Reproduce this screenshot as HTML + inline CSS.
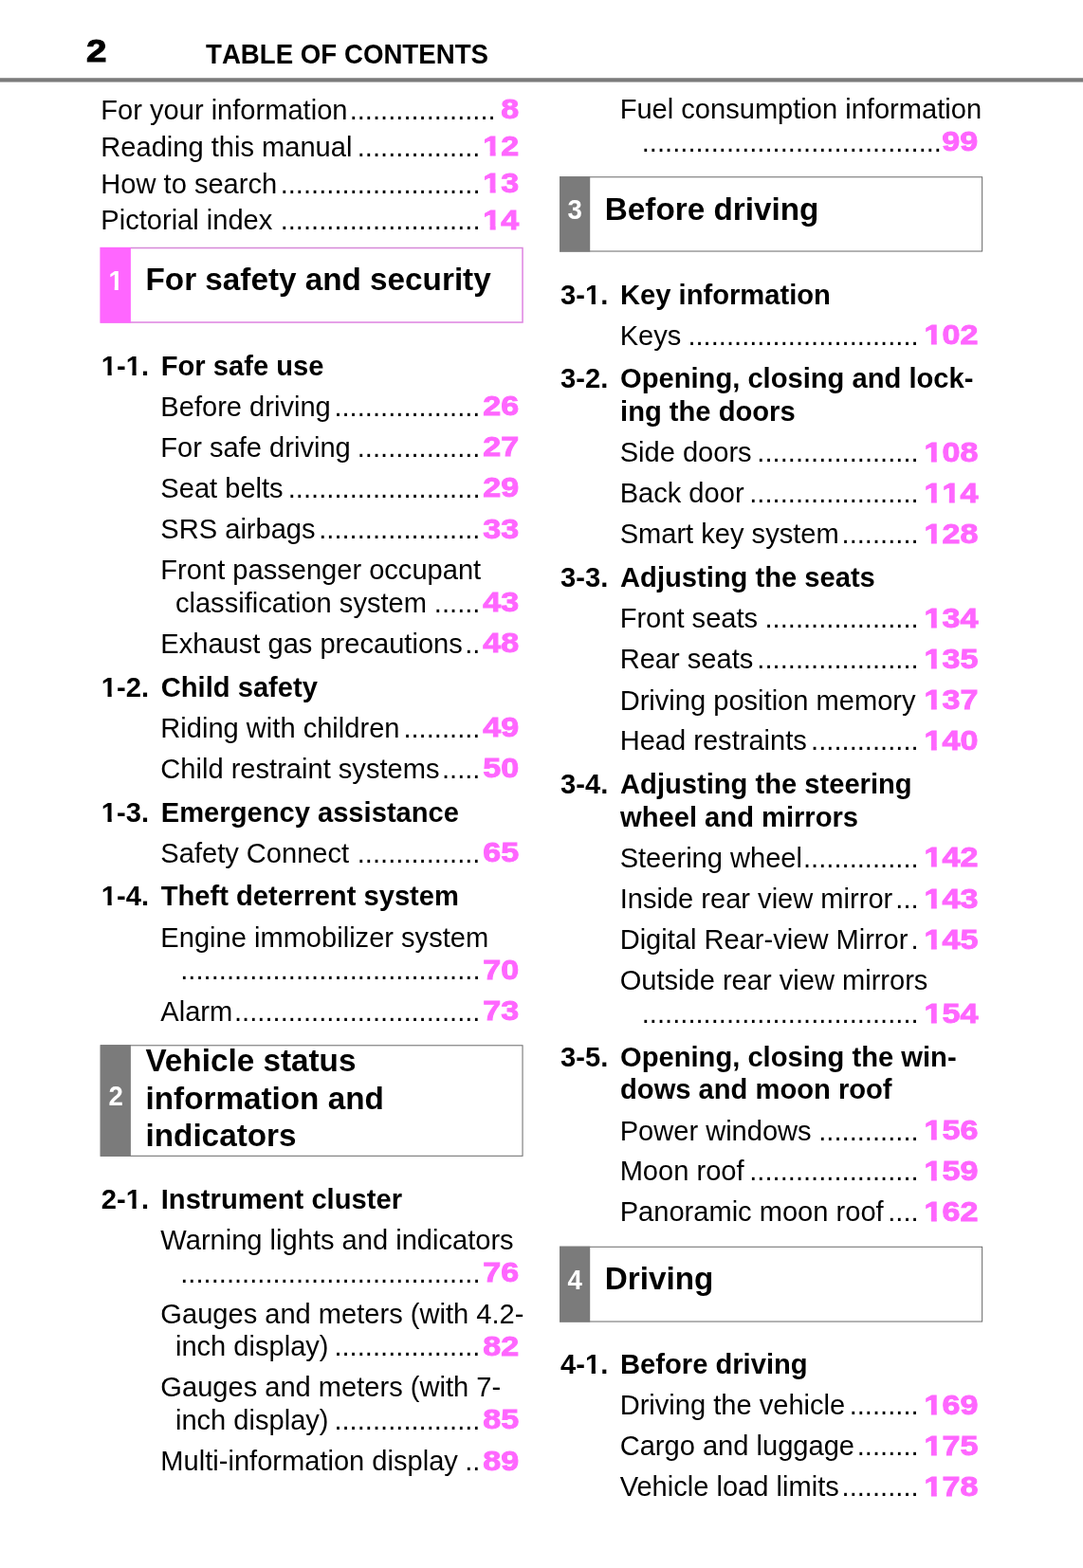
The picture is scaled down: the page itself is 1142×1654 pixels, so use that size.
<!DOCTYPE html>
<html lang="en">
<head>
<meta charset="utf-8">
<title>TABLE OF CONTENTS</title>
<style>
html,body{margin:0;padding:0;background:#fff}
body{width:1142px;height:1654px;position:relative;overflow:hidden;font-family:"Liberation Sans",Arial,Helvetica,sans-serif;color:#000}
.bg{position:absolute;left:0;top:0}
.t{position:absolute;white-space:pre;margin:0}
.e{font-size:29.08px;line-height:29px}
.d{letter-spacing:0.03px}
.s{font-size:29.15px;line-height:29px;font-weight:bold}
.h{font-size:33.27px;line-height:33px;font-weight:bold}
.hd{font-size:28.9px;line-height:28px;font-weight:bold;font-kerning:none;transform:scaleX(0.957);transform-origin:0 50%}
.n{font-size:29px;line-height:29px;font-weight:bold;color:#ff66ff;transform:scaleX(1.175);transform-origin:100% 50%;-webkit-text-stroke:0.9px #ff66ff}
.pg{font-size:33px;line-height:34px;font-weight:bold;transform:scaleX(1.17);transform-origin:0 50%;-webkit-text-stroke:1px #000}
.o,.o2,.o3{display:inline-block}
.o{clip-path:polygon(-10% -20%,120% -20%,120% 20px,69.8% 20px,69.8% 130%,38.8% 130%,38.8% 20px,-10% 20px)}
.o2{clip-path:polygon(-10% -20%,120% -20%,120% 21px,67.2% 21px,67.2% 130%,41.4% 130%,41.4% 21px,-10% 21px)}
.o3{clip-path:polygon(-10% -20%,120% -20%,120% 20.9px,67.2% 20.9px,67.2% 130%,41.4% 130%,41.4% 20.9px,-10% 20.9px)}
.bn{font-size:30px;line-height:28px;font-weight:bold;color:#fff;width:32.2px;text-align:center;transform:scaleX(0.92)}
</style>
</head>
<body>
<svg class="bg" width="1142" height="1654" viewBox="0 0 1142 1654" aria-hidden="true">
<rect x="0" y="82.25" width="1142" height="4.3" fill="#7b7b7b"/>
<rect x="106.28" y="261.57" width="444.75" height="78.45" fill="#fff" stroke="#ffb4ff" stroke-width="1.9"/>
<rect x="106.28" y="261.57" width="444.75" height="78.45" fill="none" stroke="#c888cc" stroke-width="0.9"/>
<rect x="105.7" y="261" width="32.2" height="79.6" fill="#ff66ff"/>
<rect x="106.28" y="1102.78" width="444.75" height="116.55" fill="#fff" stroke="#707070" stroke-width="1.05"/>
<rect x="105.7" y="1102.2" width="32.2" height="117.7" fill="#7b7b7b"/>
<rect x="590.58" y="186.77" width="445.05" height="78.25" fill="#fff" stroke="#707070" stroke-width="1.05"/>
<rect x="590" y="186.2" width="32.2" height="79.4" fill="#7b7b7b"/>
<rect x="590.58" y="1315.28" width="445.05" height="78.75" fill="#fff" stroke="#707070" stroke-width="1.05"/>
<rect x="590" y="1314.7" width="32.2" height="79.9" fill="#7b7b7b"/>
</svg>
<header>
<div class="t pg" style="left:91px;top:37px">2</div>
<div class="t hd" style="left:216.6px;top:43px">TABLE OF CONTENTS</div>
</header>
<main>
<section class="col">
<div class="t e" style="left:106.3px;top:102px">For your information</div>
<div class="t e d" style="left:368.63px;top:102px">...................</div>
<div class="t n" style="right:595px;top:101px">8</div>
<div class="t e" style="left:106.3px;top:141px">Reading this manual</div>
<div class="t e d" style="left:376.74px;top:141px">................</div>
<div class="t n" style="right:595px;top:140px"><span class="o">1</span>2</div>
<div class="t e" style="left:106.3px;top:180px">How to search</div>
<div class="t e d" style="left:295.66px;top:180px">..........................</div>
<div class="t n" style="right:595px;top:179px"><span class="o">1</span>3</div>
<div class="t e" style="left:106.3px;top:218px">Pictorial index</div>
<div class="t e d" style="left:295.66px;top:218px">..........................</div>
<div class="t n" style="right:595px;top:218px"><span class="o">1</span>4</div>
<div class="t h" style="left:153.5px;top:278px">For safety and security</div>
<div class="t bn" style="left:105.7px;top:282px"><span class="o3">1</span></div>
<div class="t s" style="left:106.8px;top:372px"><span class="o2">1</span>-<span class="o2">1</span>.</div>
<div class="t s" style="left:169.75px;top:372px">For safe use</div>
<div class="t e" style="left:169.35px;top:415px">Before driving</div>
<div class="t e d" style="left:352.42px;top:415px">...................</div>
<div class="t n" style="right:595px;top:414px">26</div>
<div class="t e" style="left:169.35px;top:458px">For safe driving</div>
<div class="t e d" style="left:376.74px;top:458px">................</div>
<div class="t n" style="right:595px;top:457px">27</div>
<div class="t e" style="left:169.35px;top:501px">Seat belts</div>
<div class="t e d" style="left:303.77px;top:501px">.........................</div>
<div class="t n" style="right:595px;top:500px">29</div>
<div class="t e" style="left:169.35px;top:544px">SRS airbags</div>
<div class="t e d" style="left:336.2px;top:544px">.....................</div>
<div class="t n" style="right:595px;top:544px">33</div>
<div class="t e" style="left:169.35px;top:587px">Front passenger occupant</div>
<div class="t e" style="left:184.95px;top:622px">classification system</div>
<div class="t e d" style="left:457.82px;top:622px">......</div>
<div class="t n" style="right:595px;top:621px">43</div>
<div class="t e" style="left:169.35px;top:665px">Exhaust gas precautions</div>
<div class="t e d" style="left:490.25px;top:665px">..</div>
<div class="t n" style="right:595px;top:664px">48</div>
<div class="t s" style="left:106.8px;top:711px"><span class="o2">1</span>-2.</div>
<div class="t s" style="left:169.75px;top:711px">Child safety</div>
<div class="t e" style="left:169.35px;top:754px">Riding with children</div>
<div class="t e d" style="left:425.39px;top:754px">..........</div>
<div class="t n" style="right:595px;top:753px">49</div>
<div class="t e" style="left:169.35px;top:797px">Child restraint systems</div>
<div class="t e d" style="left:465.93px;top:797px">.....</div>
<div class="t n" style="right:595px;top:796px">50</div>
<div class="t s" style="left:106.8px;top:843px"><span class="o2">1</span>-3.</div>
<div class="t s" style="left:169.75px;top:843px">Emergency assistance</div>
<div class="t e" style="left:169.35px;top:886px">Safety Connect</div>
<div class="t e d" style="left:376.74px;top:886px">................</div>
<div class="t n" style="right:595px;top:885px">65</div>
<div class="t s" style="left:106.8px;top:931px"><span class="o2">1</span>-4.</div>
<div class="t s" style="left:169.75px;top:931px">Theft deterrent system</div>
<div class="t e" style="left:169.35px;top:975px">Engine immobilizer system</div>
<div class="t e d" style="left:190.26px;top:1009px">.......................................</div>
<div class="t n" style="right:595px;top:1009px">70</div>
<div class="t e" style="left:169.35px;top:1053px">Alarm</div>
<div class="t e d" style="left:247.01px;top:1053px">................................</div>
<div class="t n" style="right:595px;top:1052px">73</div>
<div class="t h" style="left:153.5px;top:1102px">Vehicle status</div>
<div class="t h" style="left:153.5px;top:1142px">information and</div>
<div class="t h" style="left:153.5px;top:1181px">indicators</div>
<div class="t bn" style="left:105.7px;top:1142px">2</div>
<div class="t s" style="left:106.8px;top:1251px">2-<span class="o2">1</span>.</div>
<div class="t s" style="left:169.75px;top:1251px">Instrument cluster</div>
<div class="t e" style="left:169.35px;top:1294px">Warning lights and indicators</div>
<div class="t e d" style="left:190.26px;top:1329px">.......................................</div>
<div class="t n" style="right:595px;top:1328px">76</div>
<div class="t e" style="left:169.35px;top:1372px">Gauges and meters (with 4.2-</div>
<div class="t e" style="left:184.95px;top:1406px">inch display)</div>
<div class="t e d" style="left:352.42px;top:1406px">...................</div>
<div class="t n" style="right:595px;top:1406px">82</div>
<div class="t e" style="left:169.35px;top:1449px">Gauges and meters (with 7-</div>
<div class="t e" style="left:184.95px;top:1484px">inch display)</div>
<div class="t e d" style="left:352.42px;top:1484px">...................</div>
<div class="t n" style="right:595px;top:1483px">85</div>
<div class="t e" style="left:169.35px;top:1527px">Multi-information display</div>
<div class="t e d" style="left:490.25px;top:1527px">..</div>
<div class="t n" style="right:595px;top:1527px">89</div>
</section>
<section class="col">
<div class="t e" style="left:653.65px;top:101px">Fuel consumption information</div>
<div class="t e d" style="left:676.74px;top:136px">.......................................</div>
<div class="t n" style="right:111px;top:135px">99</div>
<div class="t h" style="left:637.8px;top:204px">Before driving</div>
<div class="t bn" style="left:590px;top:207px">3</div>
<div class="t s" style="left:591.1px;top:297px">3-<span class="o2">1</span>.</div>
<div class="t s" style="left:654.05px;top:297px">Key information</div>
<div class="t e" style="left:653.65px;top:340px">Keys</div>
<div class="t e d" style="left:725.38px;top:340px">..............................</div>
<div class="t n" style="right:111px;top:339px"><span class="o">1</span>02</div>
<div class="t s" style="left:591.1px;top:385px">3-2.</div>
<div class="t s" style="left:654.05px;top:385px">Opening, closing and lock-</div>
<div class="t s" style="left:654.05px;top:420px">ing the doors</div>
<div class="t e" style="left:653.65px;top:463px">Side doors</div>
<div class="t e d" style="left:798.36px;top:463px">.....................</div>
<div class="t n" style="right:111px;top:463px"><span class="o">1</span>08</div>
<div class="t e" style="left:653.65px;top:506px">Back door</div>
<div class="t e d" style="left:790.25px;top:506px">......................</div>
<div class="t n" style="right:111px;top:506px"><span class="o">1</span><span class="o">1</span>4</div>
<div class="t e" style="left:653.65px;top:549px">Smart key system</div>
<div class="t e d" style="left:887.54px;top:549px">..........</div>
<div class="t n" style="right:111px;top:549px"><span class="o">1</span>28</div>
<div class="t s" style="left:591.1px;top:595px">3-3.</div>
<div class="t s" style="left:654.05px;top:595px">Adjusting the seats</div>
<div class="t e" style="left:653.65px;top:638px">Front seats</div>
<div class="t e d" style="left:806.46px;top:638px">....................</div>
<div class="t n" style="right:111px;top:638px"><span class="o">1</span>34</div>
<div class="t e" style="left:653.65px;top:681px">Rear seats</div>
<div class="t e d" style="left:798.36px;top:681px">.....................</div>
<div class="t n" style="right:111px;top:681px"><span class="o">1</span>35</div>
<div class="t e" style="left:653.65px;top:725px">Driving position memory</div>
<div class="t n" style="right:111px;top:724px"><span class="o">1</span>37</div>
<div class="t e" style="left:653.65px;top:767px">Head restraints</div>
<div class="t e d" style="left:855.11px;top:767px">..............</div>
<div class="t n" style="right:111px;top:767px"><span class="o">1</span>40</div>
<div class="t s" style="left:591.1px;top:813px">3-4.</div>
<div class="t s" style="left:654.05px;top:813px">Adjusting the steering</div>
<div class="t s" style="left:654.05px;top:848px">wheel and mirrors</div>
<div class="t e" style="left:653.65px;top:891px">Steering wheel</div>
<div class="t e d" style="left:847px;top:891px">...............</div>
<div class="t n" style="right:111px;top:890px"><span class="o">1</span>42</div>
<div class="t e" style="left:653.65px;top:934px">Inside rear view mirror</div>
<div class="t e d" style="left:944.3px;top:934px">...</div>
<div class="t n" style="right:111px;top:934px"><span class="o">1</span>43</div>
<div class="t e" style="left:653.65px;top:977px">Digital Rear-view Mirror</div>
<div class="t e d" style="left:960.52px;top:977px">.</div>
<div class="t n" style="right:111px;top:977px"><span class="o">1</span>45</div>
<div class="t e" style="left:653.65px;top:1020px">Outside rear view mirrors</div>
<div class="t e d" style="left:676.74px;top:1055px">....................................</div>
<div class="t n" style="right:111px;top:1055px"><span class="o">1</span>54</div>
<div class="t s" style="left:591.1px;top:1101px">3-5.</div>
<div class="t s" style="left:654.05px;top:1101px">Opening, closing the win-</div>
<div class="t s" style="left:654.05px;top:1135px">dows and moon roof</div>
<div class="t e" style="left:653.65px;top:1179px">Power windows</div>
<div class="t e d" style="left:863.22px;top:1179px">.............</div>
<div class="t n" style="right:111px;top:1178px"><span class="o">1</span>56</div>
<div class="t e" style="left:653.65px;top:1221px">Moon roof</div>
<div class="t e d" style="left:790.25px;top:1221px">......................</div>
<div class="t n" style="right:111px;top:1221px"><span class="o">1</span>59</div>
<div class="t e" style="left:653.65px;top:1264px">Panoramic moon roof</div>
<div class="t e d" style="left:936.19px;top:1264px">....</div>
<div class="t n" style="right:111px;top:1264px"><span class="o">1</span>62</div>
<div class="t h" style="left:637.8px;top:1332px">Driving</div>
<div class="t bn" style="left:590px;top:1336px">4</div>
<div class="t s" style="left:591.1px;top:1425px">4-<span class="o2">1</span>.</div>
<div class="t s" style="left:654.05px;top:1425px">Before driving</div>
<div class="t e" style="left:653.65px;top:1468px">Driving the vehicle</div>
<div class="t e d" style="left:895.65px;top:1468px">.........</div>
<div class="t n" style="right:111px;top:1468px"><span class="o">1</span>69</div>
<div class="t e" style="left:653.65px;top:1511px">Cargo and luggage</div>
<div class="t e d" style="left:903.76px;top:1511px">........</div>
<div class="t n" style="right:111px;top:1511px"><span class="o">1</span>75</div>
<div class="t e" style="left:653.65px;top:1554px">Vehicle load limits</div>
<div class="t e d" style="left:887.54px;top:1554px">..........</div>
<div class="t n" style="right:111px;top:1554px"><span class="o">1</span>78</div>
</section>
</main>
</body>
</html>
